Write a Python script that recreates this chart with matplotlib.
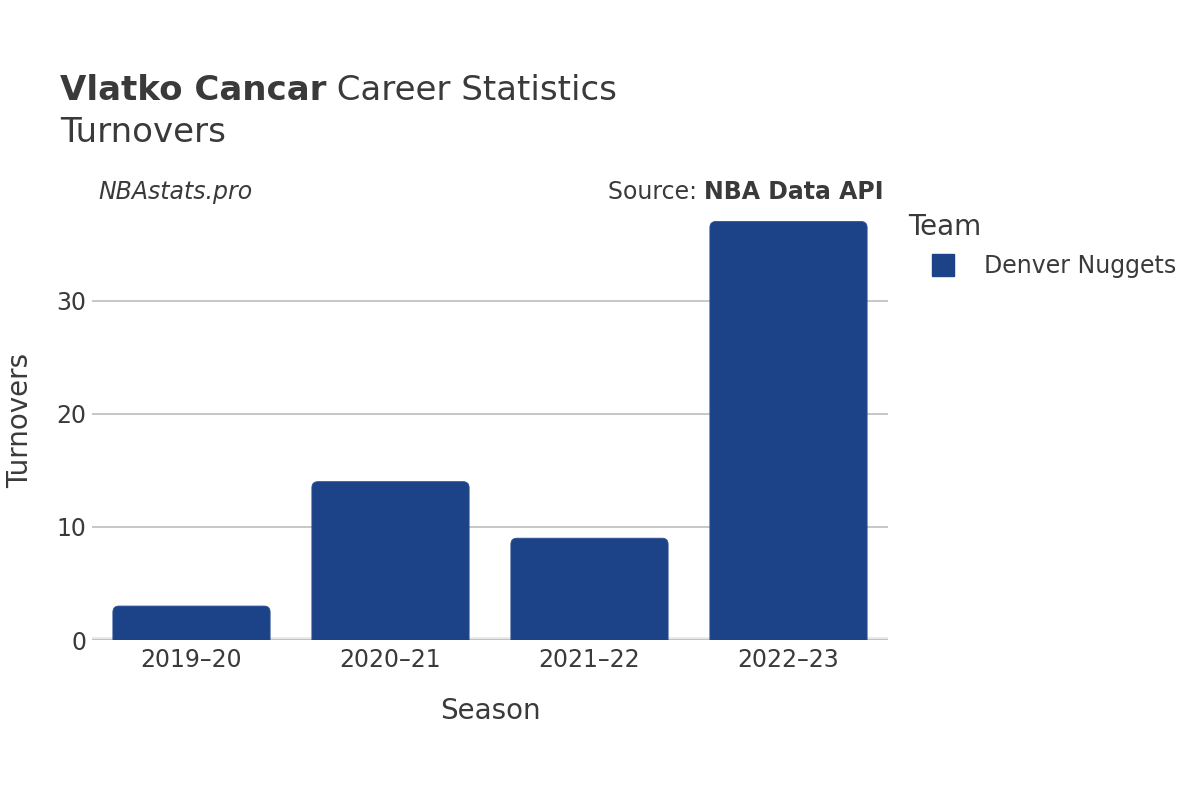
import matplotlib.pyplot as plt
from matplotlib.patches import FancyBboxPatch
from matplotlib.lines import Line2D

# data
seasons = ["2019–20", "2020–21", "2021–22", "2022–23"]
turnovers = [3, 14, 9, 37]
team = "Denver Nuggets"
bar_color = "#1c4388"
text_color = "#3a3a3a"

plt.rcParams['font.family'] = ['DejaVu Sans']

fig = plt.figure(figsize=(12, 8), dpi=100)
ax = fig.add_axes([92 / 1200, 160 / 800, 796 / 1200, 440 / 800])

x = list(range(len(seasons)))
bars = ax.bar(x, turnovers, width=0.79, color=bar_color)

ax.set_xlim(-0.5, len(seasons) - 0.5)
ax.set_ylim(0, 38.9)

# swap plain bars for ones with rounded corners
fig.canvas.draw()
px_x = ax.transData.transform([(1, 0)])[0][0] - ax.transData.transform([(0, 0)])[0][0]
px_y = ax.transData.transform([(0, 1)])[0][1] - ax.transData.transform([(0, 0)])[0][1]
for b in bars:
    b.set_visible(False)
    rad = 6 / px_x
    p = FancyBboxPatch((b.get_x(), -2), b.get_width(), b.get_height() + 2,
                       boxstyle=f"round,pad=0,rounding_size={rad}",
                       mutation_aspect=px_x / px_y,
                       facecolor=bar_color, edgecolor="#2d5094", linewidth=0.6,
                       zorder=3, clip_on=True)
    ax.add_patch(p)

ax.set_yticks([0, 10, 20, 30])
ax.grid(axis='y', color='#bdbdbd', linewidth=1.2, zorder=0)
ax.axhline(0, color='#e6e6e6', linewidth=4, zorder=1)
ax.set_xticks(x)
ax.set_xticklabels(seasons)
for s in ax.spines.values():
    s.set_visible(False)
ax.tick_params(axis='both', length=0, labelsize=17, colors=text_color, pad=6)
ax.tick_params(axis='y', pad=4)

ax.set_xlabel("Season", fontsize=20, color=text_color, labelpad=18)
ax.set_ylabel("Turnovers", fontsize=20, color=text_color, labelpad=16)

t1 = fig.text(60 / 1200, 1 - 90 / 800, "Vlatko Cancar", fontsize=24.5, fontweight='bold',
              color=text_color, va='center', ha='left')
ax.annotate(" Career Statistics", xy=(1, 0.5), xycoords=t1, va='center', ha='left',
            fontsize=24.5, color=text_color, annotation_clip=False)
fig.text(60 / 1200, 1 - 133 / 800, "Turnovers", fontsize=24.5,
         color=text_color, va='center', ha='left')

fig.text(98 / 1200, 1 - 192 / 800, "NBAstats.pro", fontsize=17, style='italic',
         color=text_color, va='center', ha='left')
t2 = fig.text(884 / 1200, 1 - 192 / 800, "NBA Data API", fontsize=17, fontweight='bold',
              color=text_color, va='center', ha='right')
ax.annotate("Source: ", xy=(0, 0.5), xycoords=t2, va='center', ha='right',
            fontsize=17, color=text_color, annotation_clip=False)

fig.text(908 / 1200, 1 - 227 / 800, "Team", fontsize=20, color=text_color,
         va='center', ha='left')
handle = Line2D([], [], marker='s', markersize=16, linestyle='none',
                markerfacecolor=bar_color, markeredgecolor=bar_color, label=team)
leg = fig.legend(handles=[handle],
                 loc='center left', bbox_to_anchor=(908 / 1200, 1 - 266 / 800),
                 frameon=False, fontsize=17, handlelength=1.2,
                 handletextpad=1.1, labelcolor=text_color)

fig.savefig("out.png", dpi=100)
